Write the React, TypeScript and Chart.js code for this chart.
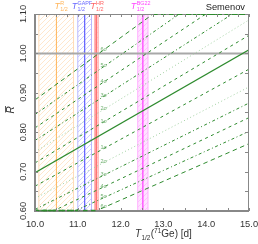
import React, { useEffect, useRef } from "react";
import { Chart, registerables } from "chart.js";
Chart.register(...registerables);

// axis ranges and ticks
const xRange = [10, 15];
const yRange = [0.6, 1.1];
const xTickLabels = [10, 11, 12, 13, 14, 15];
const yTickLabels = [0.6, 0.7, 0.8, 0.9, 1.0, 1.1];

// lines: R at T=10 and T=15
const lineT = [10, 15];
const centralR = [0.697, 1.009];
const sigmaLevels = [6, 5, 4, 3, 2, 1, -1, -2, -3, -4, -5, -6];
const sigmaR10 = [0.882, 0.845, 0.811, 0.779, 0.750, 0.722, 0.663, 0.632, 0.604, 0.578, 0.554, 0.532];
const sigmaR15 = [1.277, 1.223, 1.173, 1.127, 1.085, 1.046, 0.960, 0.915, 0.874, 0.837, 0.802, 0.771];
const sigmaStyle = ["longdash", "dashdot", "dash", "dashdot", "dot", "dash", "dash", "dot", "dashdot", "dash", "dashdot", "longdash"];
const sigmaLabelT = 11.52;

// half-life bands
const bandLabels = ["R", "GAPF", "HR", "BG22"];
const bandCenter = [10.5, 11.16, 11.43, 12.52];
const bandLow = [10.09, 11.0, 11.39, 12.4];
const bandHigh = [10.9, 11.32, 11.48, 12.64];
const bandLineColor = ["#ffb458", "#6868ff", "#ff6464", "#ff44ff"];
const bandHatchColor = ["#ffdcb8", "#b8b8ff", "#ffb8b8", "#ffb0ff"];
const bandFillColor = ["", "", "#ffd0d0", "#ffe4ff"];

const refLine = 1.0;
const title = "Semenov";

const FONT = '"Liberation Sans", Arial, sans-serif';
const GREEN = "#2e8b2e";
const LIGHT_GREEN = "#a0d0a0";

function hatch(color: string, bg: string) {
  const s = 5;
  const c = document.createElement("canvas");
  c.width = s;
  c.height = s;
  const g = c.getContext("2d")!;
  if (bg) {
    g.fillStyle = bg;
    g.fillRect(0, 0, s, s);
  }
  g.strokeStyle = color;
  g.lineWidth = 0.7;
  g.beginPath();
  g.moveTo(0, s);
  g.lineTo(s, 0);
  g.moveTo(-1, 1);
  g.lineTo(1, -1);
  g.moveTo(s - 1, s + 1);
  g.lineTo(s + 1, s - 1);
  g.stroke();
  return g.createPattern(c, "repeat");
}

function dashFor(style: string) {
  if (style === "dash") return [3, 3.5];
  if (style === "longdash") return [4.5, 3.5];
  if (style === "dashdot") return [3, 2.5, 1, 2.5];
  return [1, 2.5];
}

function drawTLabel(ctx: CanvasRenderingContext2D, x: number, yb: number, sup: string, sub: string, color: string, size: number) {
  ctx.fillStyle = color;
  ctx.textAlign = "left";
  ctx.textBaseline = "alphabetic";
  ctx.font = `italic ${size}px ${FONT}`;
  ctx.fillText("T", x, yb);
  const w = ctx.measureText("T").width;
  ctx.font = `${size * 0.6}px ${FONT}`;
  ctx.fillText(sup, x + w + 0.3, yb - size * 0.5);
  ctx.fillText(sub, x + w + 0.3, yb + size * 0.25);
}

const bandsPlugin = {
  id: "bands",
  beforeDatasetsDraw(chart: any) {
    const { ctx, chartArea: a, scales } = chart;
    const x = scales.x, y = scales.y;
    ctx.save();
    ctx.beginPath();
    ctx.rect(a.left, a.top, a.right - a.left, a.bottom - a.top);
    ctx.clip();
    bandCenter.forEach((c, i) => {
      const x0 = x.getPixelForValue(bandLow[i]);
      const x1 = x.getPixelForValue(bandHigh[i]);
      ctx.fillStyle = hatch(bandHatchColor[i], bandFillColor[i]);
      ctx.fillRect(x0, a.top, x1 - x0, a.bottom - a.top);
      ctx.strokeStyle = bandHatchColor[i];
      ctx.lineWidth = 1;
      ctx.beginPath();
      ctx.moveTo(x0, a.top);
      ctx.lineTo(x0, a.bottom);
      ctx.moveTo(x1, a.top);
      ctx.lineTo(x1, a.bottom);
      ctx.stroke();
      const xc = x.getPixelForValue(c);
      ctx.strokeStyle = bandLineColor[i];
      ctx.lineWidth = i === 0 ? 1 : 1.3;
      ctx.beginPath();
      ctx.moveTo(xc, a.top);
      ctx.lineTo(xc, a.bottom);
      ctx.stroke();
    });
    const yr = y.getPixelForValue(refLine);
    ctx.strokeStyle = "#a8a8a8";
    ctx.lineWidth = 2;
    ctx.beginPath();
    ctx.moveTo(a.left, yr);
    ctx.lineTo(a.right, yr);
    ctx.stroke();
    ctx.restore();
  },
  afterDraw(chart: any) {
    const { ctx, chartArea: a, scales } = chart;
    const x = scales.x, y = scales.y;
    ctx.save();
    // sigma labels
    ctx.font = `5.5px ${FONT}`;
    ctx.fillStyle = "#70b070";
    ctx.textAlign = "left";
    ctx.textBaseline = "middle";
    sigmaLevels.forEach((n, i) => {
      const tl = sigmaLabelT + 0.08;
      const r = sigmaR10[i] + (sigmaR15[i] - sigmaR10[i]) * (tl - lineT[0]) / (lineT[1] - lineT[0]);
      const py = y.getPixelForValue(r);
      if (py > a.top + 2 && py < a.bottom - 1) ctx.fillText(`${Math.abs(n)}σ`, x.getPixelForValue(sigmaLabelT) + 0.5, py - 1);
    });
    // frame
    ctx.strokeStyle = "#888888";
    ctx.lineWidth = 1;
    ctx.beginPath();
    ctx.moveTo(a.left, a.top + 0.5);
    ctx.lineTo(a.right, a.top + 0.5);
    ctx.moveTo(a.right - 0.5, a.top);
    ctx.lineTo(a.right - 0.5, a.bottom);
    ctx.stroke();
    ctx.lineWidth = 2;
    ctx.beginPath();
    ctx.moveTo(a.left, a.bottom);
    ctx.lineTo(a.right, a.bottom);
    ctx.moveTo(a.left, a.top);
    ctx.lineTo(a.left, a.bottom + 1);
    ctx.stroke();
    // lines leaving the frame run along its edge
    sigmaLevels.forEach((n, i) => {
      const r0 = sigmaR10[i], r1 = sigmaR15[i];
      const tAt = (r: number) => lineT[0] + (r - r0) * (lineT[1] - lineT[0]) / (r1 - r0);
      ctx.strokeStyle = sigmaStyle[i] === "dot" ? LIGHT_GREEN : GREEN;
      ctx.setLineDash(dashFor(sigmaStyle[i]));
      if (r0 < yRange[0]) {
        const tc = Math.min(tAt(yRange[0]), xRange[1]);
        const py = y.getPixelForValue(yRange[0]) - 0.5;
        ctx.lineWidth = 1.5;
        ctx.beginPath();
        ctx.moveTo(a.left, py);
        ctx.lineTo(x.getPixelForValue(tc), py);
        ctx.stroke();
      }
      if (r1 > yRange[1]) {
        const tc = Math.max(tAt(yRange[1]), xRange[0]);
        const py = y.getPixelForValue(yRange[1]) + 0.5;
        ctx.lineWidth = 1;
        ctx.beginPath();
        ctx.moveTo(x.getPixelForValue(tc), py);
        ctx.lineTo(a.right, py);
        ctx.stroke();
      }
    });
    ctx.setLineDash([]);
    // ticks
    ctx.strokeStyle = "#888888";
    ctx.lineWidth = 1;
    ctx.beginPath();
    for (let v = xRange[0]; v <= xRange[1] + 1e-9; v += 0.25) {
      const px = Math.round(x.getPixelForValue(v)) + 0.5;
      ctx.moveTo(px, a.top);
      ctx.lineTo(px, a.top + 3);
      if (Math.abs(v * 2 - Math.round(v * 2)) < 1e-6) {
        ctx.moveTo(px, a.bottom);
        ctx.lineTo(px, a.bottom - 3);
      }
    }
    for (let v = yRange[0]; v <= yRange[1] + 1e-9; v += 0.05) {
      const py = Math.round(y.getPixelForValue(v)) + 0.5;
      ctx.moveTo(a.right, py);
      ctx.lineTo(a.right - 4, py);
      ctx.moveTo(a.left, py);
      ctx.lineTo(a.left + 3, py);
    }
    ctx.stroke();
    // tick labels
    ctx.fillStyle = "#333333";
    ctx.font = `9.3px ${FONT}`;
    ctx.textAlign = "center";
    ctx.textBaseline = "middle";
    xTickLabels.forEach((v) => ctx.fillText(v.toFixed(1), x.getPixelForValue(v), 224));
    yTickLabels.forEach((v) => {
      ctx.save();
      ctx.translate(23, y.getPixelForValue(v));
      ctx.rotate(-Math.PI / 2);
      ctx.fillText(v.toFixed(2), 0, 0);
      ctx.restore();
    });
    // x title
    ctx.textAlign = "left";
    ctx.textBaseline = "alphabetic";
    let cx = 135;
    const base = 237;
    ctx.font = `italic 10px ${FONT}`;
    ctx.fillText("T", cx, base);
    cx += ctx.measureText("T").width + 0.3;
    ctx.font = `6.5px ${FONT}`;
    ctx.fillText("1/2", cx, base + 2.5);
    cx += ctx.measureText("1/2").width + 0.3;
    ctx.font = `10px ${FONT}`;
    ctx.fillText("(", cx, base);
    cx += ctx.measureText("(").width;
    ctx.font = `6.5px ${FONT}`;
    ctx.fillText("71", cx, base - 4.5);
    cx += ctx.measureText("71").width;
    ctx.font = `10px ${FONT}`;
    ctx.fillText("Ge) [d]", cx, base);
    // y title
    ctx.save();
    ctx.translate(14, 110);
    ctx.rotate(-Math.PI / 2);
    ctx.font = `italic 10px ${FONT}`;
    ctx.textAlign = "center";
    ctx.fillText("R", 0, 0);
    ctx.strokeStyle = "#333333";
    ctx.lineWidth = 0.8;
    ctx.beginPath();
    ctx.moveTo(-2.5, -8.5);
    ctx.lineTo(4, -8.5);
    ctx.stroke();
    ctx.restore();
    // band labels
    const offs = [-2, -13, -6, -12];
    bandCenter.forEach((c, i) => {
      const px = x.getPixelForValue(c);
      drawTLabel(ctx, px + offs[i], 9, bandLabels[i], "1/2", bandLineColor[i], 9);
    });
    // title
    ctx.fillStyle = "#222222";
    ctx.font = `9.3px ${FONT}`;
    ctx.textAlign = "right";
    ctx.fillText(title, 245, 10);
    ctx.restore();
  },
};

export default function App() {
  const ref = useRef<HTMLCanvasElement>(null);
  useEffect(() => {
    document.body.style.margin = "0";
    const datasets: any[] = [];
    datasets.push({
      data: lineT.map((t, j) => ({ x: t, y: centralR[j] })),
      borderColor: GREEN,
      borderWidth: 1.2,
      pointRadius: 0,
      fill: false,
    });
    sigmaLevels.forEach((n, i) => {
      const dotted = sigmaStyle[i] === "dot";
      datasets.push({
        data: [
          { x: lineT[0], y: sigmaR10[i] },
          { x: lineT[1], y: sigmaR15[i] },
        ],
        borderColor: dotted ? LIGHT_GREEN : GREEN,
        borderWidth: 1,
        borderDash: dashFor(sigmaStyle[i]),
        pointRadius: 0,
        fill: false,
      });
    });
    const chart = new Chart(ref.current!, {
      type: "line",
      data: { datasets },
      options: {
        responsive: false,
        animation: false,
        layout: { padding: { left: 35, right: 9, top: 14, bottom: 33 } },
        plugins: { legend: { display: false }, tooltip: { enabled: false } },
        scales: {
          x: { type: "linear", min: xRange[0], max: xRange[1], display: false },
          y: { type: "linear", min: yRange[0], max: yRange[1], display: false },
        },
      },
      plugins: [bandsPlugin],
    });
    return () => chart.destroy();
  }, []);
  return <canvas ref={ref} width={258} height={244} style={{ display: "block" }} />;
}
